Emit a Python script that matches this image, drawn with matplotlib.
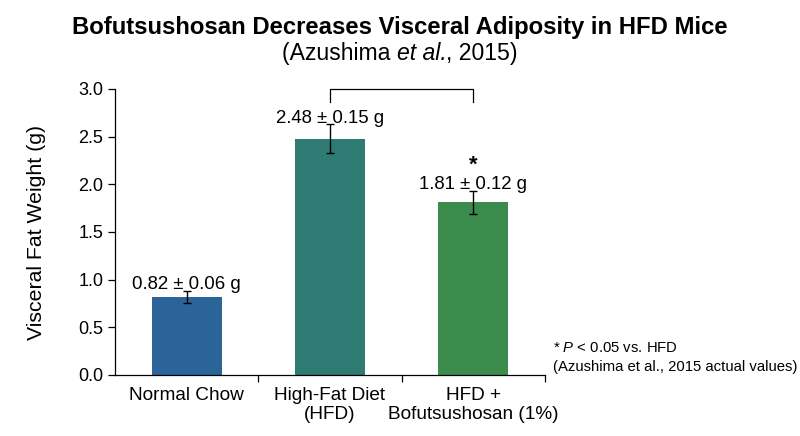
import numpy as np
import matplotlib
matplotlib.use("Agg")
import matplotlib.pyplot as plt

# Data (Azushima et al., 2015)
groups = ["Normal Chow", "High-Fat Diet\n(HFD)", "HFD +\nBofutsushosan (1%)"]
means = [0.82, 2.48, 1.81]
sems = [0.06, 0.15, 0.12]
colors = ["#2A6498", "#2E7B73", "#3A8B4C"]
yticks = [0.0, 0.5, 1.0, 1.5, 2.0, 2.5, 3.0]


def main():
    plt.rcParams['font.family'] = ['Liberation Sans', 'DejaVu Sans']
    plt.rcParams['mathtext.fontset'] = 'custom'
    plt.rcParams['mathtext.rm'] = 'Liberation Sans'
    plt.rcParams['mathtext.it'] = 'Liberation Sans:italic'

    fig = plt.figure(figsize=(8, 4.36), dpi=100)
    ax = fig.add_axes([0.144, 0.140, 0.537, 0.656])

    x = np.arange(len(groups))
    ax.bar(x, means, width=0.49, color=colors, zorder=2)
    ax.errorbar(x, means, yerr=sems, fmt='none', ecolor='black',
                elinewidth=1, capsize=2.6, capthick=1, zorder=3)

    # value labels just above error bars
    for xi, m, s in zip(x, means, sems):
        ax.text(xi, m + s - 0.025, f"{m:.2f} ± {s:.2f} g", ha='center',
                va='bottom', fontsize=13.4)

    # significance bracket and star
    ax.plot([1, 1, 2, 2], [2.86, 3.0, 3.0, 2.86], color='black', lw=0.9,
            clip_on=False)
    ax.text(2, 2.085, "*", ha='center', va='bottom', fontsize=16,
            fontweight='bold')

    ax.set_xlim(-0.5, 2.5)
    ax.set_ylim(0, 3.0)
    ax.set_yticks(yticks)
    ax.set_yticklabels([f"{t:.1f}" for t in yticks])
    ax.set_xticks(x)
    ax.set_xticklabels(groups, linespacing=1.15)
    ax.set_xticks([0.5, 1.5, 2.5], minor=True)
    ax.tick_params(axis='x', which='major', length=0, labelsize=13.7, pad=9)
    ax.tick_params(axis='x', which='minor', length=5, width=0.9)
    ax.tick_params(axis='y', labelsize=13, length=5, width=0.9)
    ax.set_ylabel("Visceral Fat Weight (g)", fontsize=15.3, labelpad=23)

    for side in ['top', 'right']:
        ax.spines[side].set_visible(False)
    for side in ['left', 'bottom']:
        ax.spines[side].set_linewidth(0.9)

    # titles
    fig.text(0.5, 0.936, "Bofutsushosan Decreases Visceral Adiposity in HFD Mice",
             ha='center', va='center', fontsize=17.2, fontweight='bold')

    # subtitle in three pieces so "et al." can be italic without extra gaps
    parts = [("(Azushima ", 'normal'), ("et al.", 'italic'), (", 2015)", 'normal')]
    renderer = fig.canvas.get_renderer()
    texts = []
    for s, st in parts:
        texts.append(fig.text(0, 0.877, s, ha='left', va='center',
                              fontsize=16.6, style=st))
    widths = [t.get_window_extent(renderer).width / fig.bbox.width for t in texts]
    xpos = 0.5 - sum(widths) / 2
    for t, w in zip(texts, widths):
        t.set_x(xpos)
        xpos += w

    # footnote
    fig.text(0.691, 0.202, "* $\\it{P}$ < 0.05 vs. HFD", ha='left',
             va='center', fontsize=10.7)
    fig.text(0.691, 0.158, "(Azushima et al., 2015 actual values)", ha='left',
             va='center', fontsize=10.7)

    fig.savefig("out.png", dpi=100)


if __name__ == "__main__":
    main()
